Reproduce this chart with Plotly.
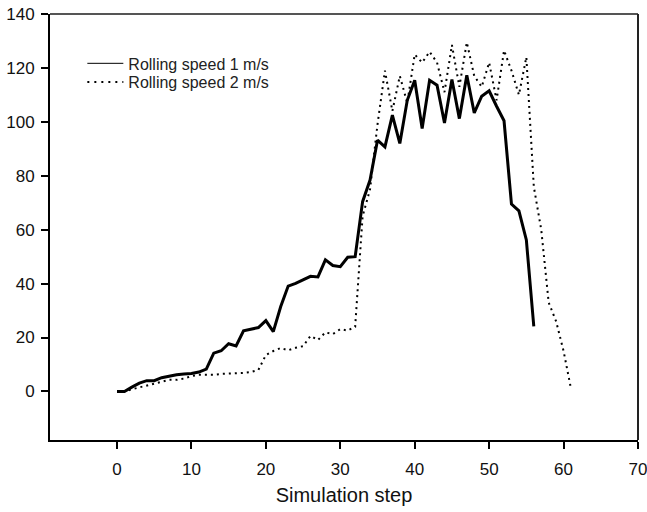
import plotly.graph_objects as go

# -- Data --------------------------------------------------------------------

steps_1 = list(range(0, 57))
speed_1 = [
    0, 0, 1.6, 3.1, 4.0, 4.0, 5.1, 5.7, 6.2, 6.5,
    6.7, 7.2, 8.3, 14.2, 15.1, 17.7, 16.9, 22.5, 23.2, 23.7,
    26.3, 22.2, 31.5, 39.1, 40.1, 41.5, 42.7, 42.5, 48.8, 46.7,
    46.3, 49.8, 50.0, 70.4, 78.4, 93.2, 90.7, 102.5, 92.0, 108.0,
    115.4, 97.5, 115.4, 113.6, 99.6, 115.7, 101.2, 117.3, 103.3, 109.5,
    111.5, 105.8, 100.4, 69.5, 67.0, 56.2, 24.1,
]

steps_2 = list(range(0, 62))
speed_2 = [
    0, 0, 0.8, 1.5, 2.3, 3.0, 3.8, 4.3, 4.3, 4.8,
    5.7, 6.2, 6.2, 6.2, 6.5, 6.6, 6.8, 6.9, 7.2, 8.0,
    13.5, 15.0, 16.1, 15.3, 16.2, 16.8, 20.6, 19.1, 21.9, 21.3,
    23.1, 22.6, 24.0, 65.0, 75.0, 99.0, 119.0, 104.0, 117.0, 107.0,
    125.0, 122.0, 126.0, 122.0, 111.0, 128.5, 113.0, 129.5, 117.0, 113.0,
    122.0, 108.0, 126.5, 119.0, 110.0, 124.0, 76.0, 60.0, 33.0, 26.0,
    15.0, 1.0,
]

series_names = ["Rolling speed 1 m/s", "Rolling speed 2 m/s"]
x_ticks = [0, 10, 20, 30, 40, 50, 60, 70]
y_ticks = [0, 20, 40, 60, 80, 100, 120, 140]

# -- Figure ------------------------------------------------------------------

fig = go.Figure()

fig.add_trace(go.Scatter(
    x=steps_1, y=speed_1, mode="lines", showlegend=False,
    line={"color": "black", "width": 3},
))
fig.add_trace(go.Scatter(
    x=steps_2, y=speed_2, mode="lines", showlegend=False,
    line={"color": "black", "width": 2, "dash": "2px,4px"},
))

# legend entries use thin samples, as in the original; one legend per row
# so the row spacing can be matched
fig.add_trace(go.Scatter(
    x=[None], y=[None], mode="lines", name=series_names[0], legend="legend",
    line={"color": "black", "width": 1},
))
fig.add_trace(go.Scatter(
    x=[None], y=[None], mode="lines", name=series_names[1], legend="legend2",
    line={"color": "black", "width": 2, "dash": "2px,5px"},
))

font_family = "Liberation Sans, Arial, sans-serif"
legend_style = {
    "x": 0.055, "xanchor": "left", "yanchor": "middle",
    "bgcolor": "rgba(0,0,0,0)", "font": {"size": 16, "color": "#222"},
    "itemwidth": 36,
}

fig.update_layout(
    width=647, height=512,
    margin={"l": 50, "r": 9, "t": 14, "b": 72},
    paper_bgcolor="white", plot_bgcolor="white",
    font={"family": font_family, "size": 17, "color": "#111"},
    legend={**legend_style, "y": 0.884},
    legend2={**legend_style, "y": 0.840},
    shapes=[
        {"type": "line", "xref": "paper", "yref": "paper", "x0": 0, "x1": 1,
         "y0": 1, "y1": 1, "line": {"color": "#555", "width": 2}},
        {"type": "line", "xref": "paper", "yref": "paper", "x0": 1, "x1": 1,
         "y0": 0, "y1": 1, "line": {"color": "#222", "width": 2}},
    ],
)

fig.update_xaxes(
    range=[-9, 70], tickvals=x_ticks, ticktext=[str(v) for v in x_ticks],
    automargin=False, showgrid=False, zeroline=False,
    showline=True, linecolor="black", linewidth=2,
    ticks="outside", ticklen=7, tickwidth=1.5, tickcolor="black",
    ticklabelstandoff=6, ticklabeloverflow="allow",
    title={"text": "Simulation step", "font": {"size": 20, "color": "#111"}, "standoff": 10},
)
fig.update_yaxes(
    range=[-18, 140], tickvals=y_ticks, ticktext=[str(v) for v in y_ticks],
    automargin=False, showgrid=False, zeroline=False,
    showline=True, linecolor="black", linewidth=2,
    ticks="outside", ticklen=7, tickwidth=1.5, tickcolor="black",
    ticklabelstandoff=3,
)

fig.write_html(
    "out.html",
    config={"displayModeBar": False},
    post_script="document.body.style.margin='0';document.body.style.overflow='hidden';",
)
